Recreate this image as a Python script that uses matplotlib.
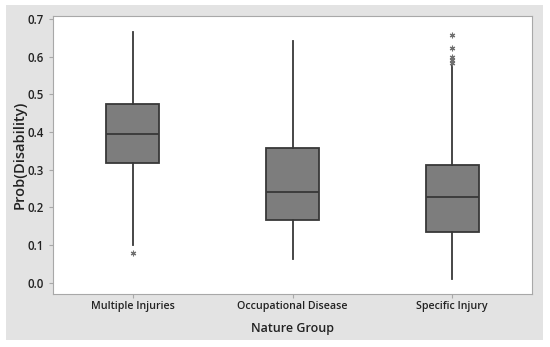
import matplotlib
matplotlib.use("Agg")
import matplotlib.pyplot as plt
from matplotlib.patches import Rectangle

categories = ["Multiple Injuries", "Occupational Disease", "Specific Injury"]
whislo = [0.100, 0.062, 0.009]
q1 = [0.319, 0.166, 0.135]
med = [0.395, 0.242, 0.228]
q3 = [0.475, 0.358, 0.312]
whishi = [0.665, 0.642, 0.578]
outliers = [[0.080], [], [0.584, 0.591, 0.600, 0.624, 0.657]]
yticks = [0.0, 0.1, 0.2, 0.3, 0.4, 0.5, 0.6, 0.7]

plt.rcParams['font.family'] = ['Open Sans', 'DejaVu Sans']

fig = plt.figure(figsize=(5.5, 3.47), dpi=100)
fig.patch.set_facecolor("white")
bg = Rectangle((6/550, 1-340/347), (543-6)/550, (340-5)/347,
               transform=fig.transFigure, facecolor="#e3e3e3",
               edgecolor="none", zorder=-10)
fig.add_artist(bg)

ax = fig.add_axes([53/550, 1-294/347, (532-53)/550, (294-16)/347])
ax.set_facecolor("white")
ax.set_zorder(1)

stats = []
for i in range(len(categories)):
    stats.append(dict(label=categories[i], whislo=whislo[i], q1=q1[i], med=med[i],
                      q3=q3[i], whishi=whishi[i], fliers=outliers[i]))

ax.bxp(stats, positions=[1, 2, 3], widths=0.33, patch_artist=True, showcaps=False,
       boxprops=dict(facecolor="#7d7d7d", edgecolor="#383838", linewidth=1.3),
       medianprops=dict(color="#383838", linewidth=1.3),
       whiskerprops=dict(color="#383838", linewidth=1.3),
       flierprops=dict(marker=(6, 2, 0), markersize=4, markerfacecolor="none",
                       markeredgecolor="#707070", markeredgewidth=0.8))

ax.set_xlim(0.5, 3.5)
ax.set_ylim(-0.030, 0.708)
ax.set_yticks(yticks)
ax.set_yticklabels([f"{t:.1f}" for t in yticks])
for s in ax.spines.values():
    s.set_color("#a8a8a8")
    s.set_linewidth(0.8)
ax.tick_params(axis="both", colors="#a8a8a8", length=3, width=0.8, labelcolor="#222222")
ax.tick_params(axis="x", pad=2)
for lab in ax.get_yticklabels():
    lab.set_fontsize(8.3)
    lab.set_fontweight("semibold")
for lab in ax.get_xticklabels():
    lab.set_fontsize(7.7)
    lab.set_fontweight("semibold")
ax.set_ylabel("Prob(Disability)", fontsize=10.5, fontweight="semibold", color="#222222", labelpad=1)
ax.set_xlabel("Nature Group", fontsize=9, fontweight="semibold", color="#222222", labelpad=7)

fig.savefig("out.png", dpi=100, facecolor="white")
